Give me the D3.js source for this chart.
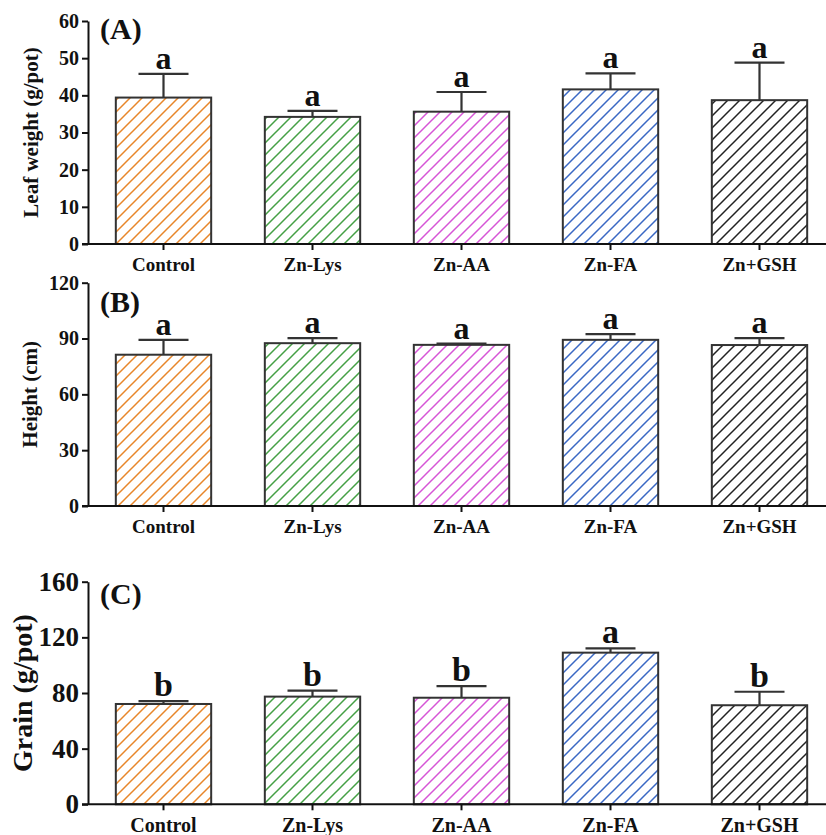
<!DOCTYPE html>
<html>
<head>
<meta charset="utf-8">
<title>Zn treatments</title>
<script src="https://cdn.jsdelivr.net/npm/d3@7"></script>
<style>
  body { margin: 0; background: #fff; }
  svg text { font-family: "Liberation Serif", "Times New Roman", serif; font-weight: bold; fill: #111; }
</style>
</head>
<body>
<div id="chart"></div>
<script>
var categories = ["Control", "Zn-Lys", "Zn-AA", "Zn-FA", "Zn+GSH"];
var colors = ["#e8862a", "#45a045", "#d655d6", "#3a68c4", "#222222"];

var leafMean = [39.4, 34.2, 35.6, 41.6, 38.7];
var leafErr = [6.4, 1.6, 5.3, 4.3, 10.1];
var leafLetters = ["a", "a", "a", "a", "a"];

var heightMean = [81.3, 87.5, 86.6, 89.3, 86.5];
var heightErr = [8.0, 2.7, 0.7, 3.1, 3.7];
var heightLetters = ["a", "a", "a", "a", "a"];

var grainMean = [72.1, 77.4, 76.6, 109.0, 71.2];
var grainErr = [2.1, 4.3, 8.4, 3.1, 9.7];
var grainLetters = ["b", "b", "b", "a", "b"];

var width = 826, height = 835;
var svg = d3.select("#chart").append("svg").attr("width", width).attr("height", height);

// hatch patterns, one per colour
var defs = svg.append("defs");
colors.forEach(function (c, i) {
  var p = defs.append("pattern")
    .attr("id", "hatch" + i)
    .attr("patternUnits", "userSpaceOnUse")
    .attr("width", 12).attr("height", 12);
  p.append("rect").attr("width", 12).attr("height", 12).attr("fill", "#fff");
  p.append("path")
    .attr("d", "M0,12 L12,0 M-3,3 L3,-3 M9,15 L15,9")
    .attr("stroke", c).attr("stroke-width", 1.5);
});

var x = d3.scaleBand().domain(categories).range([89, 834]).paddingInner(0.36).paddingOuter(0.18);

var panels = [
  { label: "(A)", title: "Leaf weight (g/pot)", mean: leafMean, err: leafErr, letters: leafLetters,
    max: 60, ticks: [0, 10, 20, 30, 40, 50, 60], y0: 244, y1: 21,
    tickFont: 20, titleFont: 21, titleX: 38, labelFont: 30, letterFont: 32, xFont: 19, labelY: 39 },
  { label: "(B)", title: "Height (cm)", mean: heightMean, err: heightErr, letters: heightLetters,
    max: 120, ticks: [0, 30, 60, 90, 120], y0: 506, y1: 282.7,
    tickFont: 20, titleFont: 21, titleX: 37, labelFont: 30, letterFont: 32, xFont: 19, labelY: 312 },
  { label: "(C)", title: "Grain (g/pot)", mean: grainMean, err: grainErr, letters: grainLetters,
    max: 160, ticks: [0, 40, 80, 120, 160], y0: 804.3, y1: 581.7,
    tickFont: 27, titleFont: 28, titleX: 32, labelFont: 30, letterFont: 34, xFont: 20, labelY: 604 }
];

panels.forEach(function (pn) {
  var y = d3.scaleLinear().domain([0, pn.max]).range([pn.y0, pn.y1]);
  var g = svg.append("g");

  var rows = categories.map(function (c, i) {
    return { cat: c, i: i, mean: pn.mean[i], err: pn.err[i], letter: pn.letters[i] };
  });

  // bars
  g.selectAll("rect.bar").data(rows).enter().append("rect")
    .attr("class", "bar")
    .attr("x", function (d) { return x(d.cat); })
    .attr("width", x.bandwidth())
    .attr("y", function (d) { return y(d.mean); })
    .attr("height", function (d) { return y(0) - y(d.mean); })
    .attr("fill", function (d) { return "url(#hatch" + d.i + ")"; })
    .attr("stroke", "#333").attr("stroke-width", 2);

  // error bars (upper only)
  var cap = 25;
  g.selectAll("path.err").data(rows).enter().append("path")
    .attr("class", "err")
    .attr("d", function (d) {
      var cx = x(d.cat) + x.bandwidth() / 2;
      return "M" + cx + "," + y(d.mean) + "V" + y(d.mean + d.err) +
        "M" + (cx - cap) + "," + y(d.mean + d.err) + "H" + (cx + cap);
    })
    .attr("stroke", "#333").attr("stroke-width", 2.2).attr("fill", "none");

  // significance letters
  g.selectAll("text.sig").data(rows).enter().append("text")
    .attr("class", "sig")
    .attr("x", function (d) { return x(d.cat) + x.bandwidth() / 2; })
    .attr("y", function (d) { return y(d.mean + d.err) - 5; })
    .attr("text-anchor", "middle")
    .style("font-size", pn.letterFont + "px")
    .text(function (d) { return d.letter; });

  // axes
  var yAxis = d3.axisLeft(y).tickValues(pn.ticks).tickSize(6).tickSizeOuter(0).tickPadding(3);
  var ga = g.append("g").attr("transform", "translate(88,0)").call(yAxis);
  ga.selectAll("text").style("font-size", pn.tickFont + "px").attr("fill", "#111");
  ga.selectAll("line, path").attr("stroke", "#111").attr("stroke-width", 2);

  var xAxis = d3.axisBottom(x).tickSize(6).tickSizeOuter(0).tickPadding(8);
  var gx = g.append("g").attr("transform", "translate(0," + pn.y0 + ")").call(xAxis);
  gx.select(".domain").attr("d", "M82,0H826");
  gx.selectAll("text").style("font-size", pn.xFont + "px").attr("fill", "#111");
  gx.selectAll("line, path").attr("stroke", "#111").attr("stroke-width", 2);

  // panel label
  g.append("text").attr("x", 100).attr("y", pn.labelY)
    .style("font-size", pn.labelFont + "px").text(pn.label);

  // y title
  g.append("text")
    .attr("transform", "translate(" + pn.titleX + "," + ((pn.y0 + pn.y1) / 2) + ") rotate(-90)")
    .attr("text-anchor", "middle")
    .style("font-size", pn.titleFont + "px")
    .text(pn.title);
});
</script>
</body>
</html>
